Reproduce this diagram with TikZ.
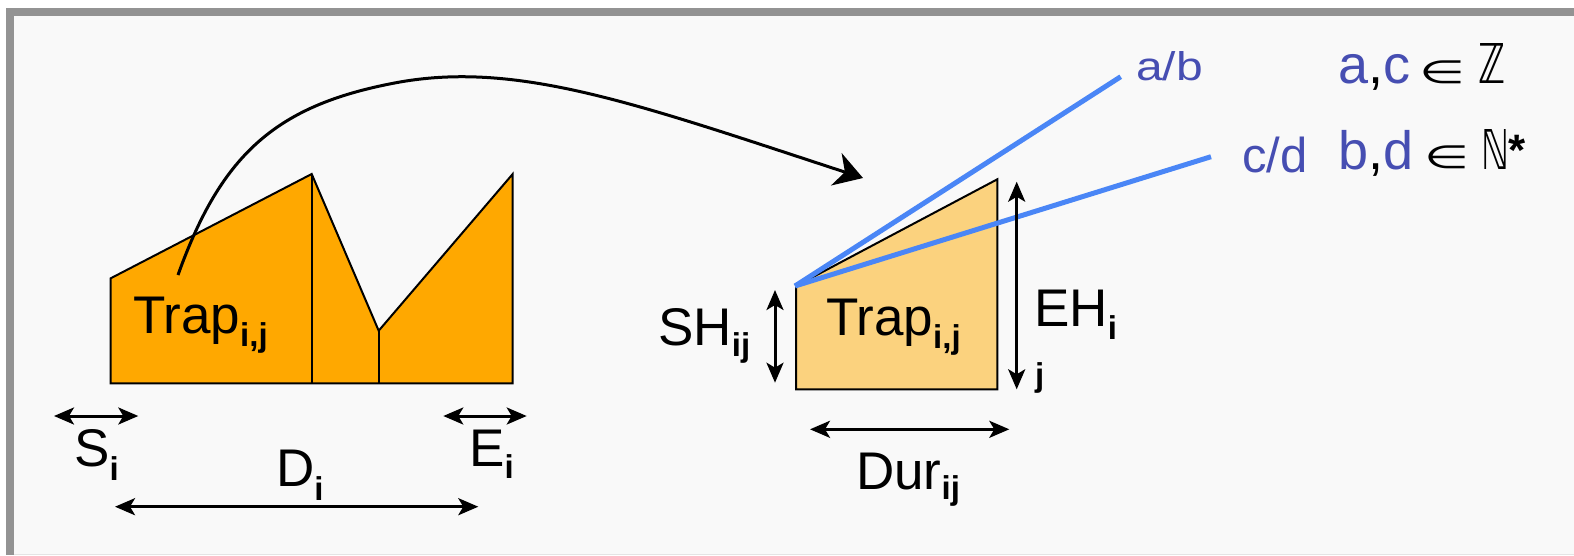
\documentclass[tikz,border=0pt]{standalone}
\usepackage{fontspec}
\setmainfont{Liberation Sans}
\newfontfamily\djv{DejaVu Sans}
\usepackage{graphicx}
\usetikzlibrary{arrows.meta}
\definecolor{frameGray}{HTML}{939393}
\definecolor{bgGray}{HTML}{F9F9F9}
\definecolor{lineGray}{HTML}{E4E4E4}
\definecolor{orangeA}{HTML}{FFA800}
\definecolor{orangeB}{HTML}{FBD27E}
\definecolor{blueLine}{HTML}{4A86F6}
\definecolor{blueText}{RGB}{70,78,178}
\newcommand\mysub[2][13]{\lower #1pt\hbox{\fontsize{33}{33}\selectfont\bfseries #2}}
\tikzset{
  shapeline/.style={draw=black, line width=2pt, line join=miter},
  dimarrow/.style={line width=3pt,
    {Stealth[length=20pt,width=17pt,inset=5pt]}-{Stealth[length=20pt,width=17pt,inset=5pt]}},
  curvearrow/.style={line width=3pt, -{Stealth[length=28pt,width=34pt,inset=9pt]}},
  blueseg/.style={draw=blueLine, line width=5pt},
  lbl/.style={anchor=base west, inner sep=0pt, font=\fontsize{53}{53}\selectfont},
  sublbl/.style={anchor=base west, inner sep=0pt, font=\fontsize{33}{33}\selectfont\bfseries},
  toptext/.style={anchor=base west, inner sep=0pt, font=\fontsize{54}{54}\selectfont},
  glyphbox/.style={anchor=south west, inner sep=0pt},
}
\begin{document}
\begin{tikzpicture}[x=1pt,y=-1pt]
\path[use as bounding box] (0,0) rectangle (1574,555);
% frame
\fill[white] (0,0) rectangle (1574,555);
\fill[frameGray] (6,8) rectangle (1574,555);
\fill[bgGray] (14,16) rectangle (1574,555);
\fill[lineGray] (14,553.5) rectangle (1574,555);

% left shape
\draw[shapeline, fill=orangeA] (110.7,383.3) -- (110.7,278.3) -- (311.7,174) -- (378.7,330.7)
  -- (512.7,174) -- (512.7,383.3) -- cycle;
\draw[shapeline] (311.7,174) -- (311.7,383.3);
\draw[shapeline] (378.7,330.7) -- (378.7,383.3);
\node[lbl] (trapL) at (133,333.3) {Trap\mysub[13.4]{i,j}};

% right shape
\draw[shapeline, fill=orangeB] (796,389.3) -- (796,286) -- (997.3,179.3) -- (997.3,389.3) -- cycle;
\node[lbl] (trapR) at (826,335) {Trap\mysub[13]{i,j}};

% connector curve
\coordinate (cstart) at (178,275);
\coordinate (cend) at (863,178);
\draw[curvearrow] (cstart) .. controls (222,152) and (278,104) .. (400,82)
  .. controls (520,61) and (640,105) .. (cend);

% blue slopes
\coordinate (bstart) at (795,286);
\coordinate (abEnd) at (1120.7,76.7);
\coordinate (cdEnd) at (1211,156.7);
\draw[blueseg] (bstart) -- (abEnd);
\draw[blueseg] (bstart) -- (cdEnd);

% dimension arrows
\coordinate (shTop) at (775,290);
\coordinate (shBot) at (775,382.7);
\draw[dimarrow] (shTop) -- (shBot);
\coordinate (ehTop) at (1016.7,181.7);
\coordinate (ehBot) at (1016.7,389.3);
\draw[dimarrow] (ehTop) -- (ehBot);
\coordinate (durL) at (810,429.3);
\coordinate (durR) at (1009.3,429.3);
\draw[dimarrow] (durL) -- (durR);
\coordinate (sL) at (54,416);
\coordinate (sR) at (138.3,416);
\draw[dimarrow] (sL) -- (sR);
\coordinate (eL) at (443.3,416);
\coordinate (eR) at (526.7,416);
\draw[dimarrow] (eL) -- (eR);
\coordinate (dL) at (115,506.7);
\coordinate (dR) at (478.3,506.7);
\draw[dimarrow] (dL) -- (dR);

% labels
\node[lbl] (shLbl) at (658,345) {SH\mysub[11]{ij}};
\node[lbl] (ehLbl) at (1034,326.7) {EH\mysub[13]{i}};
\node[sublbl] (ehJ) at (1035,386) {j};
\node[lbl] (durLbl) at (856,489) {Dur\mysub[10]{ij}};
\node[lbl] (sLbl) at (74,466.7) {S\mysub[13.3]{i}};
\node[lbl] (eLbl) at (469,466) {E\mysub[12]{i}};
\node[lbl] (dLbl) at (276,486.7) {D\mysub[13.3]{i}};

% top right texts
\node[anchor=base west, inner sep=0pt, font=\fontsize{40}{40}\selectfont, text=blueText, xscale=1.2] (abLbl) at (1136,80) {a/b};
\node[anchor=base west, inner sep=0pt, font=\fontsize{49}{49}\selectfont, text=blueText] (cdLbl) at (1242,172.7) {c/d};
\node[toptext] (acLbl) at (1338,83.3) {\textcolor{blueText}{a},\textcolor{blueText}{c}};
\node[glyphbox] (in1) at (1419,84) {\resizebox*{46pt}{23pt}{\djv ∈}};
\node[glyphbox] (zz) at (1478,83.5) {\resizebox*{27pt}{40pt}{\djv ℤ}};
\node[toptext] (bdLbl) at (1338,169.3) {\textcolor{blueText}{b},\textcolor{blueText}{d}};
\node[glyphbox] (in2) at (1424,169.5) {\resizebox*{45pt}{23pt}{\djv ∈}};
\node[glyphbox] (nn) at (1481,169.5) {\resizebox*{28pt}{40pt}{\djv ℕ}};
\node[anchor=base west, inner sep=0pt, font=\fontsize{44}{44}\selectfont\bfseries] (star) at (1508,165) {*};
\end{tikzpicture}
\end{document}
